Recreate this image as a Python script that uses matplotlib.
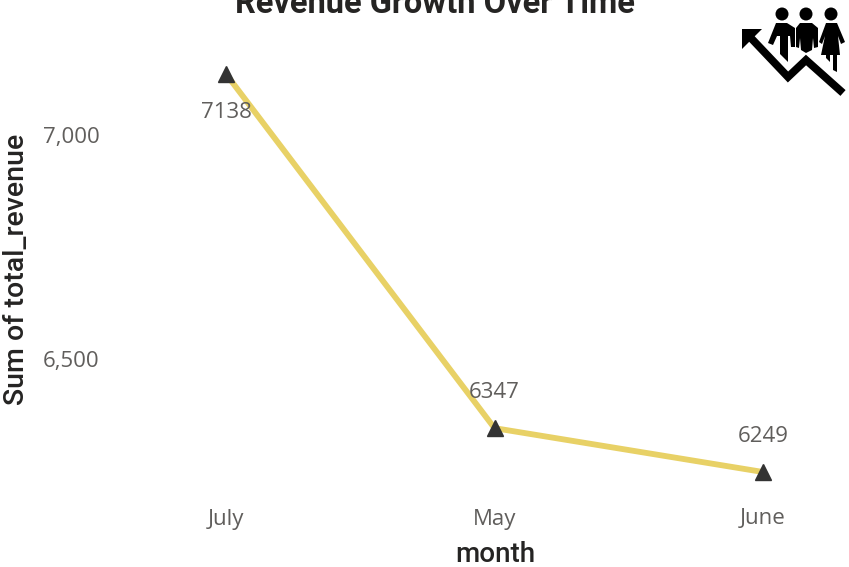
import matplotlib
matplotlib.use("Agg")
import matplotlib.pyplot as plt
from matplotlib.patches import Circle, Polygon

plt.rcParams['font.family'] = ['Open Sans', 'DejaVu Sans']

# values
months = ["July", "May", "June"]
revenue = [7138, 6347, 6249]
yticks = [6500, 7000]
ytick_labels = ["6,500", "7,000"]

W, H = 849, 567
fig = plt.figure(figsize=(W / 100, H / 100), dpi=100)

# full figure axes, July at x=226, June at x=763, 7138 at y=74, 6249 at y=472
ax = fig.add_axes([0, 0, 1, 1])
ax.set_xlim(-226 / 268.5, (W - 226) / 268.5)
per_px = 889 / 398
ax.set_ylim(7138 - (H - 74) * per_px, 7138 + 74 * per_px)
ax.axis('off')

x = list(range(len(months)))
ax.plot(x, revenue, color='#E8D166', linewidth=4.2, solid_capstyle='butt', zorder=2)
ax.plot(x, revenue, linestyle='none', marker='^', markersize=11.5, color='#333333', zorder=3)

# first label sits below its point, the others above
offsets = [-27.5, 25.5, 25.5]
for i, v in enumerate(revenue):
    ax.annotate(str(v), (i, v), xytext=(0, offsets[i]), textcoords='offset points',
                ha='center', va='center', fontsize=16, color='#605E5C', zorder=4)

for t, lab in zip(yticks, ytick_labels):
    ax.annotate(lab, (71 / W, t), xycoords=ax.get_yaxis_transform(), xytext=(0, -1.5),
                textcoords='offset points', ha='center', va='center', fontsize=16, color='#605E5C')

for i, m in enumerate(months):
    ax.text(i, 1 - 519 / H, m, transform=ax.get_xaxis_transform(), ha='center', va='center',
            fontsize=16, color='#605E5C')

fig.text(495 / W, 1 - 555 / H, "month", ha='center', va='center', fontsize=20, color='#252423',
         family='Roboto', fontweight='medium')
fig.text(17 / W, 1 - 269 / H, "Sum of total_revenue", rotation=90, ha='center', va='center',
         fontsize=20.5, color='#252423', family='Roboto', fontweight='medium')
# title runs off the top edge in the original too
fig.text(435 / W, 1 - 13 / H, "Revenue Growth Over Time", ha='center', va='baseline', fontsize=23.5,
         color='#252423', family='Roboto', fontweight='bold')

# people and arrow icon, top right, outlines traced in pixels
icon = fig.add_axes([0, 0, 1, 1], facecolor='none')
icon.set_xlim(0, W)
icon.set_ylim(H, 0)
icon.axis('off')

man_left = [[776, 23], [787, 23], [795, 28], [795, 47], [791, 47], [790, 36], [788, 36], [788, 62], [780, 54],
            [780, 36], [777, 36], [773, 45], [768, 43]]
man_mid = [[800, 23], [812, 23], [818, 28], [818, 47], [814, 48], [813, 38], [812, 50], [806, 53], [801, 50],
           [800, 38], [799, 48], [796, 47], [796, 28]]
woman = [[826, 23], [837, 23], [845, 42], [841, 44], [838, 36], [840, 55], [837, 55], [837, 72], [833, 70],
         [833, 55], [830, 55], [830, 62], [826, 58], [826, 55], [821, 55], [825, 36], [822, 44], [819, 42]]
for shape in (man_left, man_mid, woman):
    icon.add_patch(Polygon(shape, color='black', lw=0))
for cx in (782, 806, 831):
    icon.add_patch(Circle((cx, 14), 6.5, color='black', lw=0))

icon.plot([750, 788, 806, 843], [37, 77, 60, 93], color='black', linewidth=5.6,
          solid_joinstyle='miter', solid_capstyle='butt')
icon.add_patch(Polygon([[742, 29], [762, 29], [742, 49]], color='black', lw=0))

fig.savefig('out.png', dpi=100)
